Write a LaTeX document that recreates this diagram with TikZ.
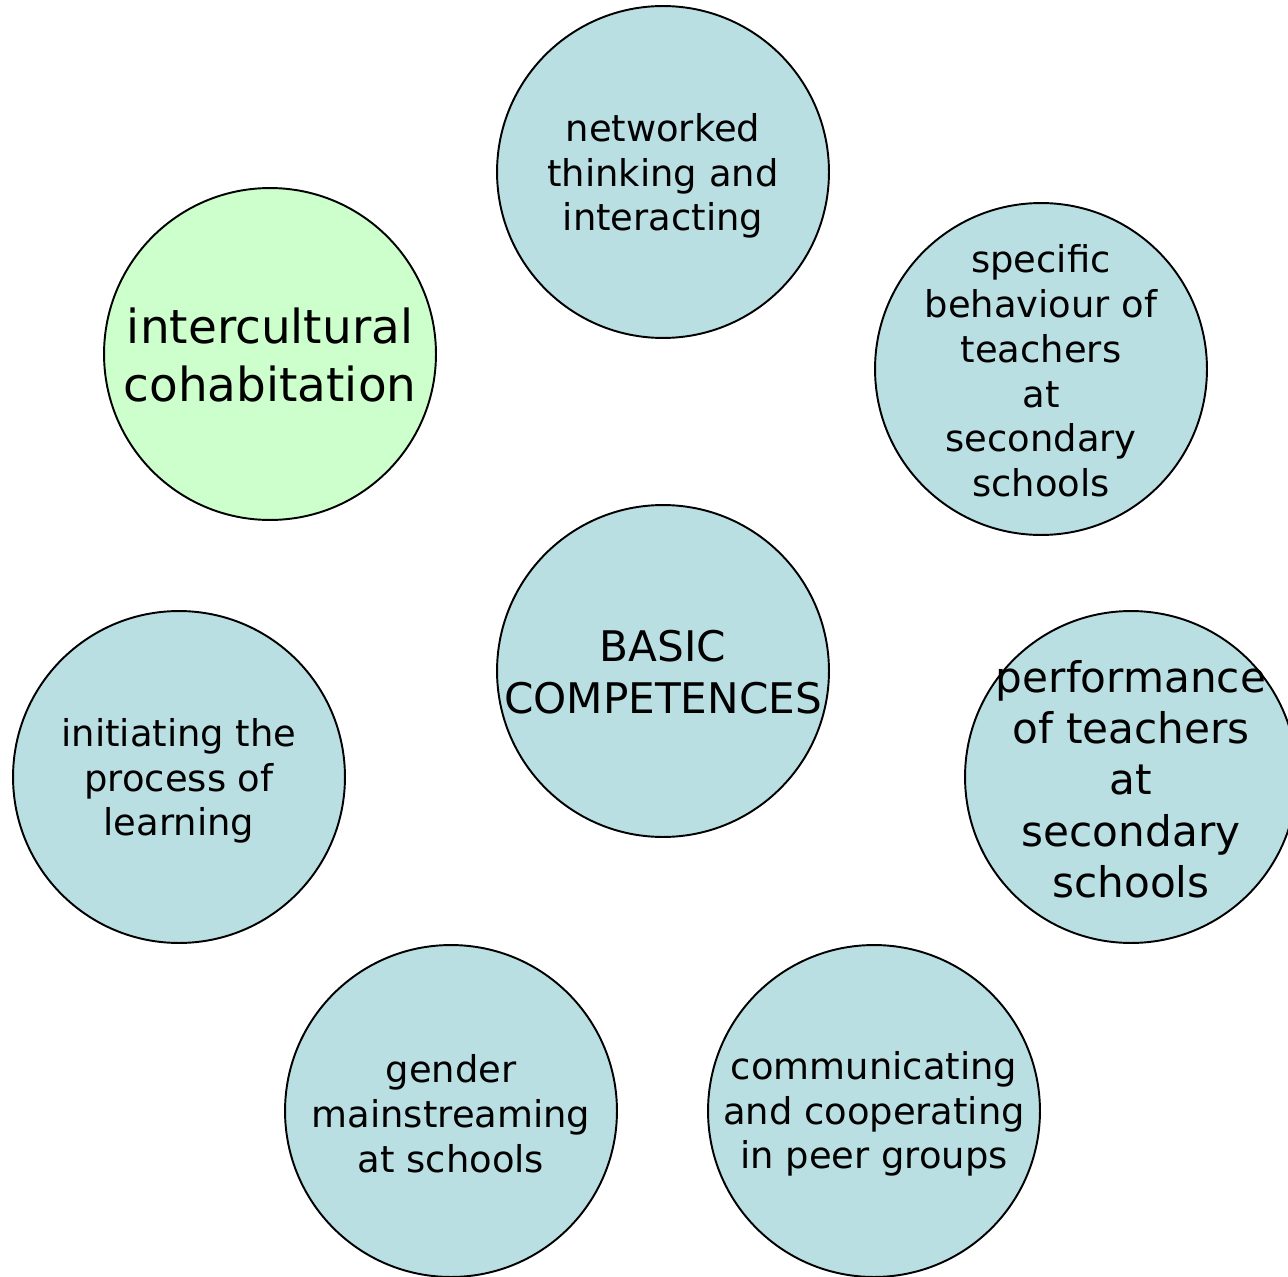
\documentclass[tikz,border=0pt]{standalone}
\usepackage{fontspec}
\setmainfont{DejaVu Sans}
\usepackage{tikz}
\usetikzlibrary{positioning}
\definecolor{bubbleblue}{RGB}{185,223,227}
\definecolor{bubblegreen}{RGB}{204,255,204}
\tikzset{
    bubble/.style={draw=black, line width=1.1pt, fill=bubbleblue},
    smalltext/.style={align=center, inner sep=0pt, font=\fontsize{21}{25.5}\selectfont},
    bigtext/.style={align=center, inner sep=0pt, font=\fontsize{24}{29.2}\selectfont},
    hugetext/.style={align=center, inner sep=0pt, font=\fontsize{26.7}{32.5}\selectfont}
}

\begin{document}
\begin{tikzpicture}[x=0.02cm,y=-0.02cm]
            \useasboundingbox (0,0) rectangle (1288,1277);

            \draw[bubble] (663,172) circle (3.32cm);
            \node[smalltext] (network) at (663,176) {networked\\thinking and\\interacting};

            \draw[bubble] (1041,369) circle (3.32cm);
            \node[smalltext] (behaviour) at (1041,371) {specific\\behaviour of\\teachers\\at\\secondary\\schools};

            \draw[bubble, fill=bubblegreen] (270,354) circle (3.32cm);
            \node[hugetext] (intercult) at (270,355) {intercultural\\cohabitation};

            \draw[bubble] (663,671) circle (3.32cm);
            \node[bigtext] (basic) at (663,672) {BASIC\\COMPETENCES};

            \draw[bubble] (179,777) circle (3.32cm);
            \node[smalltext] (initiate) at (179,781) {initiating the\\process of\\learning};

            \draw[bubble] (1131,777) circle (3.32cm);
            \node[bigtext] (perform) at (1131,779) {performance\\of teachers\\at\\secondary\\schools};

            \draw[bubble] (451,1111) circle (3.32cm);
            \node[smalltext] (gender) at (451,1114) {gender\\mainstreaming\\at schools};

            \draw[bubble] (874,1111) circle (3.32cm);
            \node[smalltext] (communic) at (874,1114) {communicating\\and cooperating\\in peer groups};

\end{tikzpicture}
\end{document}
